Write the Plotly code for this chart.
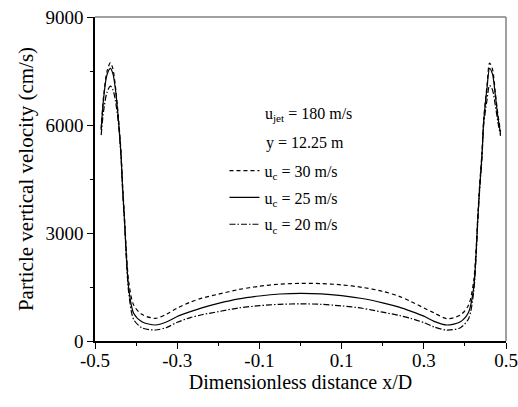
import plotly.graph_objects as go

# Dimensionless distance x/D
x_d = [-0.485, -0.479, -0.471, -0.4625, -0.4565, -0.4506, -0.4426, -0.4367, -0.4328,
       -0.428, -0.4238, -0.418, -0.406, -0.386, -0.353, -0.325, -0.30, -0.268, -0.24,
       -0.20, -0.15, -0.10, -0.05, 0.0, 0.05, 0.10, 0.15, 0.20, 0.24, 0.268, 0.30,
       0.325, 0.356, 0.389, 0.409, 0.4212, 0.427, 0.431, 0.4358, 0.4416, 0.4457,
       0.4538, 0.460, 0.467, 0.474, 0.480, 0.4867]

# Particle vertical velocity (cm/s) for each cross-flow velocity
v_uc30 = [5900, 6800, 7480, 7730, 7560, 7100, 6150, 5250, 4330, 3400, 2500, 1650,
          1000, 740, 630, 750, 915, 1080, 1190, 1300, 1430, 1520, 1580, 1600, 1595,
          1560, 1490, 1380, 1240, 1100, 920, 780, 620, 720, 1000, 1650, 2500, 3400,
          4330, 5250, 6150, 7100, 7720, 7560, 6900, 6320, 5820]
v_uc25 = [5860, 6740, 7390, 7575, 7430, 7020, 6090, 5170, 4240, 3310, 2390, 1460,
          770, 536, 445, 536, 680, 815, 920, 1045, 1170, 1250, 1305, 1325, 1310,
          1260, 1180, 1060, 940, 830, 690, 545, 445, 536, 800, 1460, 2390, 3310,
          4240, 5170, 6090, 7020, 7575, 7420, 6830, 6250, 5760]
v_uc20 = [5720, 6400, 6900, 7080, 6980, 6700, 6000, 5100, 4180, 3250, 2300, 1350,
          600, 370, 305, 380, 520, 650, 730, 815, 920, 980, 1020, 1030, 1020,
          975, 910, 800, 710, 630, 510, 390, 305, 370, 620, 1350, 2300, 3250,
          4180, 5100, 6000, 6700, 7100, 6980, 6550, 6100, 5700]

names = ["u<sub>c</sub> = 30 m/s", "u<sub>c</sub> = 25 m/s", "u<sub>c</sub> = 20 m/s"]
dashes = ["4px,3px", "solid", "6px,2px,1.5px,2px"]

FONT = "Liberation Serif, Times New Roman, serif"

fig = go.Figure()
for i, (v, nm, ds) in enumerate(zip([v_uc30, v_uc25, v_uc20], names, dashes)):
    fig.add_trace(go.Scatter(
        x=x_d, y=v, mode="lines", name=nm, legendgroup=f"g{i}",
        line=dict(color="black", width=1.2, dash=ds, shape="spline", smoothing=0.8),
    ))

fig.update_layout(
    width=518, height=407,
    margin=dict(l=95, r=12, t=17, b=66),
    paper_bgcolor="white", plot_bgcolor="white",
    font=dict(family=FONT, size=18, color="black"),
    showlegend=True,
    legend=dict(x=0.315, y=0.578, xanchor="left", yanchor="top",
                bgcolor="rgba(0,0,0,0)", borderwidth=0,
                font=dict(family=FONT, size=16), itemwidth=30,
                tracegroupgap=3),
    annotations=[
        dict(x=0.408, y=0.7, xref="paper", yref="paper", xanchor="left", yanchor="middle",
             text="u<sub>jet</sub> = 180 m/s", showarrow=False,
             font=dict(family=FONT, size=16)),
        dict(x=0.41, y=0.61, xref="paper", yref="paper", xanchor="left", yanchor="middle",
             text="y = 12.25 m", showarrow=False,
             font=dict(family=FONT, size=16)),
    ],
    shapes=[
        dict(type="line", xref="paper", yref="paper", x0=0, x1=1, y0=1, y1=1,
             line=dict(color="#808080", width=1.5)),
        dict(type="line", xref="paper", yref="paper", x0=1, x1=1, y0=0, y1=1,
             line=dict(color="#808080", width=1.5)),
    ],
)

fig.update_xaxes(
    range=[-0.5, 0.5], tickvals=[-0.5, -0.3, -0.1, 0.1, 0.3, 0.5],
    ticktext=["-0.5", "-0.3", "-0.1", "0.1", "0.3", "0.5"],
    ticks="outside", ticklen=6, tickwidth=1.2, tickcolor="black", automargin=False,
    ticklabelstandoff=-5,
    showline=True, linecolor="black", linewidth=1.5, showgrid=False, zeroline=False,
    minor=dict(tickvals=[-0.4, -0.2, 0.0, 0.2, 0.4], ticks="outside", ticklen=3,
               tickcolor="black", showgrid=False),
    tickfont=dict(family=FONT, size=19),
    title=dict(text="Dimensionless distance x/D", font=dict(family=FONT, size=20), standoff=5),
)
fig.update_yaxes(
    range=[0, 9000], tickvals=[0, 3000, 6000, 9000],
    ticks="outside", ticklen=6, tickwidth=1.2, tickcolor="black", automargin=False,
    showline=True, linecolor="black", linewidth=1.5, showgrid=False, zeroline=False,
    minor=dict(tickvals=[1500, 4500, 7500], ticks="outside", ticklen=3,
               tickcolor="black", showgrid=False),
    tickfont=dict(family=FONT, size=19),
    title=dict(text="Particle vertical velocity (cm/s)", font=dict(family=FONT, size=21), standoff=6),
)

fig.write_html("out.html")
